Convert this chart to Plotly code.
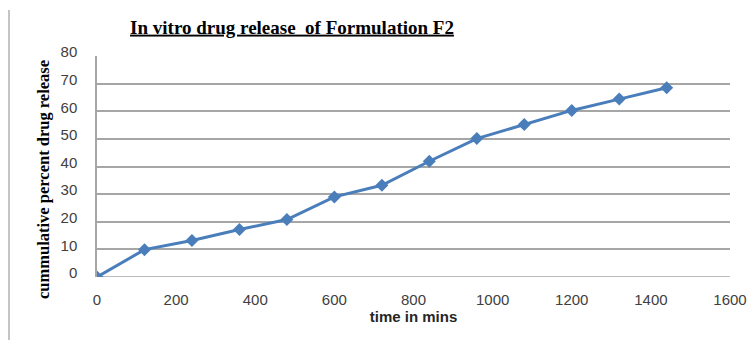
import plotly.graph_objects as go

time_mins = [0, 120, 240, 360, 480, 600, 720, 840, 960, 1080, 1200, 1320, 1440]
release_pct = [0, 9.9, 13.2, 17.2, 20.8, 29.0, 33.2, 41.9, 50.1, 55.2, 60.3, 64.4, 68.5]
x_ticks = [0, 200, 400, 600, 800, 1000, 1200, 1400, 1600]
y_ticks = [0, 10, 20, 30, 40, 50, 60, 70, 80]

L, R, T, B = 97, 18, 56, 63
W, H = 748, 340
pw = W - L - R
ph = H - T - B

fig = go.Figure()
fig.add_trace(go.Scatter(
    x=time_mins, y=release_pct, mode="lines+markers",
    line=dict(color="#4a7ebb", width=3),
    marker=dict(symbol="diamond", size=10, color="#4a7ebb"),
    showlegend=False,
))

fig.update_layout(
    width=W, height=H,
    margin=dict(l=L, r=R, t=T, b=B, autoexpand=False),
    paper_bgcolor="white", plot_bgcolor="white",
    title=dict(
        text="<b><u>In vitro drug release&nbsp; of Formulation F2</u></b>",
        font=dict(family="Liberation Serif", size=19, color="#000000"),
        x=(292 - L) / pw, xref="paper", xanchor="center",
        y=1 - 27 / H, yref="container", yanchor="middle",
    ),
    xaxis=dict(
        range=[0, 1600], tickvals=x_ticks, showgrid=False, zeroline=False,
        showline=False,
        tickfont=dict(family="Liberation Sans", size=15, color="#404040"),
        ticks="outside", ticklen=9, tickcolor="rgba(0,0,0,0)",
        title=dict(text="<b>time in mins</b>", standoff=2,
                   font=dict(family="Liberation Sans", size=15, color="#262626")),
    ),
    yaxis=dict(
        range=[0, 80], tickvals=y_ticks, showgrid=True, gridcolor="#a6a6a6",
        gridwidth=1.5, zeroline=False, showline=True, linecolor="#a6a6a6",
        linewidth=1.5,
        tickfont=dict(family="Liberation Sans", size=15, color="#404040"),
        ticks="outside", ticklen=15, tickcolor="rgba(0,0,0,0)",
        ticklabelshift=-4,
    ),
    annotations=[
        dict(text="<b>cummulative percent drug release</b>", textangle=-90,
             xref="paper", yref="paper",
             x=(43 - L) / pw, y=(H - B - 180) / ph,
             xanchor="center", yanchor="middle", showarrow=False,
             font=dict(family="Liberation Serif", size=16.5, color="#000000")),
    ],
    shapes=[
        dict(type="line", xref="paper", yref="paper",
             x0=(9 - L) / pw, x1=(9 - L) / pw,
             y0=(H - B - 10) / ph, y1=(H - B - 340) / ph,
             line=dict(color="#b0b0b0", width=1.5)),
        dict(type="line", xref="paper", yref="y",
             x0=0, x1=1, y0=0, y1=0,
             line=dict(color="#a6a6a6", width=1.5), layer="below"),
    ],
)

fig.write_html("out.html")
